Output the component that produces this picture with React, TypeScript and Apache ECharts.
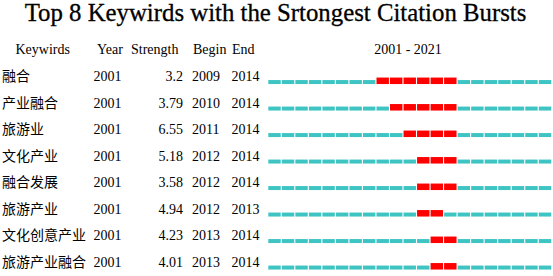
import React, { useEffect, useRef } from "react";
import * as echarts from "echarts";

const keywords = ["融合", "产业融合", "旅游业", "文化产业", "融合发展", "旅游产业", "文化创意产业", "旅游产业融合"];
const yearCol = [2001, 2001, 2001, 2001, 2001, 2001, 2001, 2001];
const strength = ["3.2", "3.79", "6.55", "5.18", "3.58", "4.94", "4.23", "4.01"];
const beginYear = [2009, 2010, 2011, 2012, 2012, 2012, 2013, 2013];
const endYear = [2014, 2014, 2014, 2014, 2014, 2013, 2014, 2014];
const years = Array.from({ length: 21 }, (_, i) => String(2001 + i));
const headers = ["Keywirds", "Year", "Strength", "Begin", "End", "2001 - 2021"];

const FONT = "'Liberation Serif', 'Times New Roman', 'Noto Sans CJK SC', serif";

export default function App() {
  const ref = useRef<HTMLDivElement>(null);
  useEffect(() => {
    const chart = echarts.init(ref.current!, null, { renderer: "svg" });
    const segData: number[][] = [];
    keywords.forEach((_, r) => {
      years.forEach((y, i) => {
        const yr = Number(y);
        const burst = yr >= beginYear[r] && yr <= endYear[r] ? 1 : 0;
        segData.push([i, r, burst]);
      });
    });
    const textData = keywords.map((_, r) => [0, r]);
    const hdr = (text: string, x: number, align = "left") => ({
      type: "text",
      x,
      y: 49.5,
      style: { text, font: `14px ${FONT}`, fill: "#000", align, verticalAlign: "middle" },
    });
    chart.setOption({
      animation: false,
      graphic: [
        {
          type: "text",
          x: 275.5,
          y: 12.8,
          style: {
            text: "Top 8 Keywirds with the Srtongest Citation Bursts",
            font: `24.8px ${FONT}`,
            fill: "#000",
            stroke: "#000",
            lineWidth: 0.3,
            align: "center",
            verticalAlign: "middle",
          },
        },
        hdr(headers[0], 15.5),
        hdr(headers[1], 97),
        hdr(headers[2], 131),
        hdr(headers[3], 193),
        hdr(headers[4], 232),
        hdr(headers[5], 408, "center"),
      ],
      grid: { left: 268.3, width: 284, top: 63.3, height: 212 },
      xAxis: { type: "category", data: years, show: false },
      yAxis: { type: "category", data: keywords, inverse: true, show: false },
      series: [
        {
          type: "custom",
          data: segData,
          encode: { x: 0, y: 1 },
          renderItem: (params: any, api: any) => {
            const p = api.coord([api.value(0), api.value(1)]);
            const bw = api.size([1, 0])[0];
            const burst = api.value(2) === 1;
            const h = burst ? 6.5 : 4;
            return {
              type: "rect",
              shape: { x: p[0] - bw / 2, y: p[1] + 7.5 - h, width: bw - 1.1, height: h },
              style: { fill: burst ? "#ff0000" : "#3fc4c4" },
            };
          },
        },
        {
          type: "custom",
          data: textData,
          encode: { x: 0, y: 1 },
          renderItem: (params: any, api: any) => {
            const r = params.dataIndex;
            const p = api.coord([0, api.value(1)]);
            const y = p[1];
            const mk = (text: string, x: number, align: string) => ({
              type: "text",
              x,
              y,
              style: { text, font: `14px ${FONT}`, fill: "#000", align, verticalAlign: "middle" },
            });
            return {
              type: "group",
              children: [
                mk(keywords[r], 2, "left"),
                mk(String(yearCol[r]), 93.5, "left"),
                mk(strength[r], 183, "right"),
                mk(String(beginYear[r]), 192, "left"),
                mk(String(endYear[r]), 259.5, "right"),
              ],
            };
          },
        },
      ],
    });
    return () => chart.dispose();
  }, []);
  return <div ref={ref} style={{ width: 553, height: 276, position: "absolute", left: 0, top: 0 }} />;
}
